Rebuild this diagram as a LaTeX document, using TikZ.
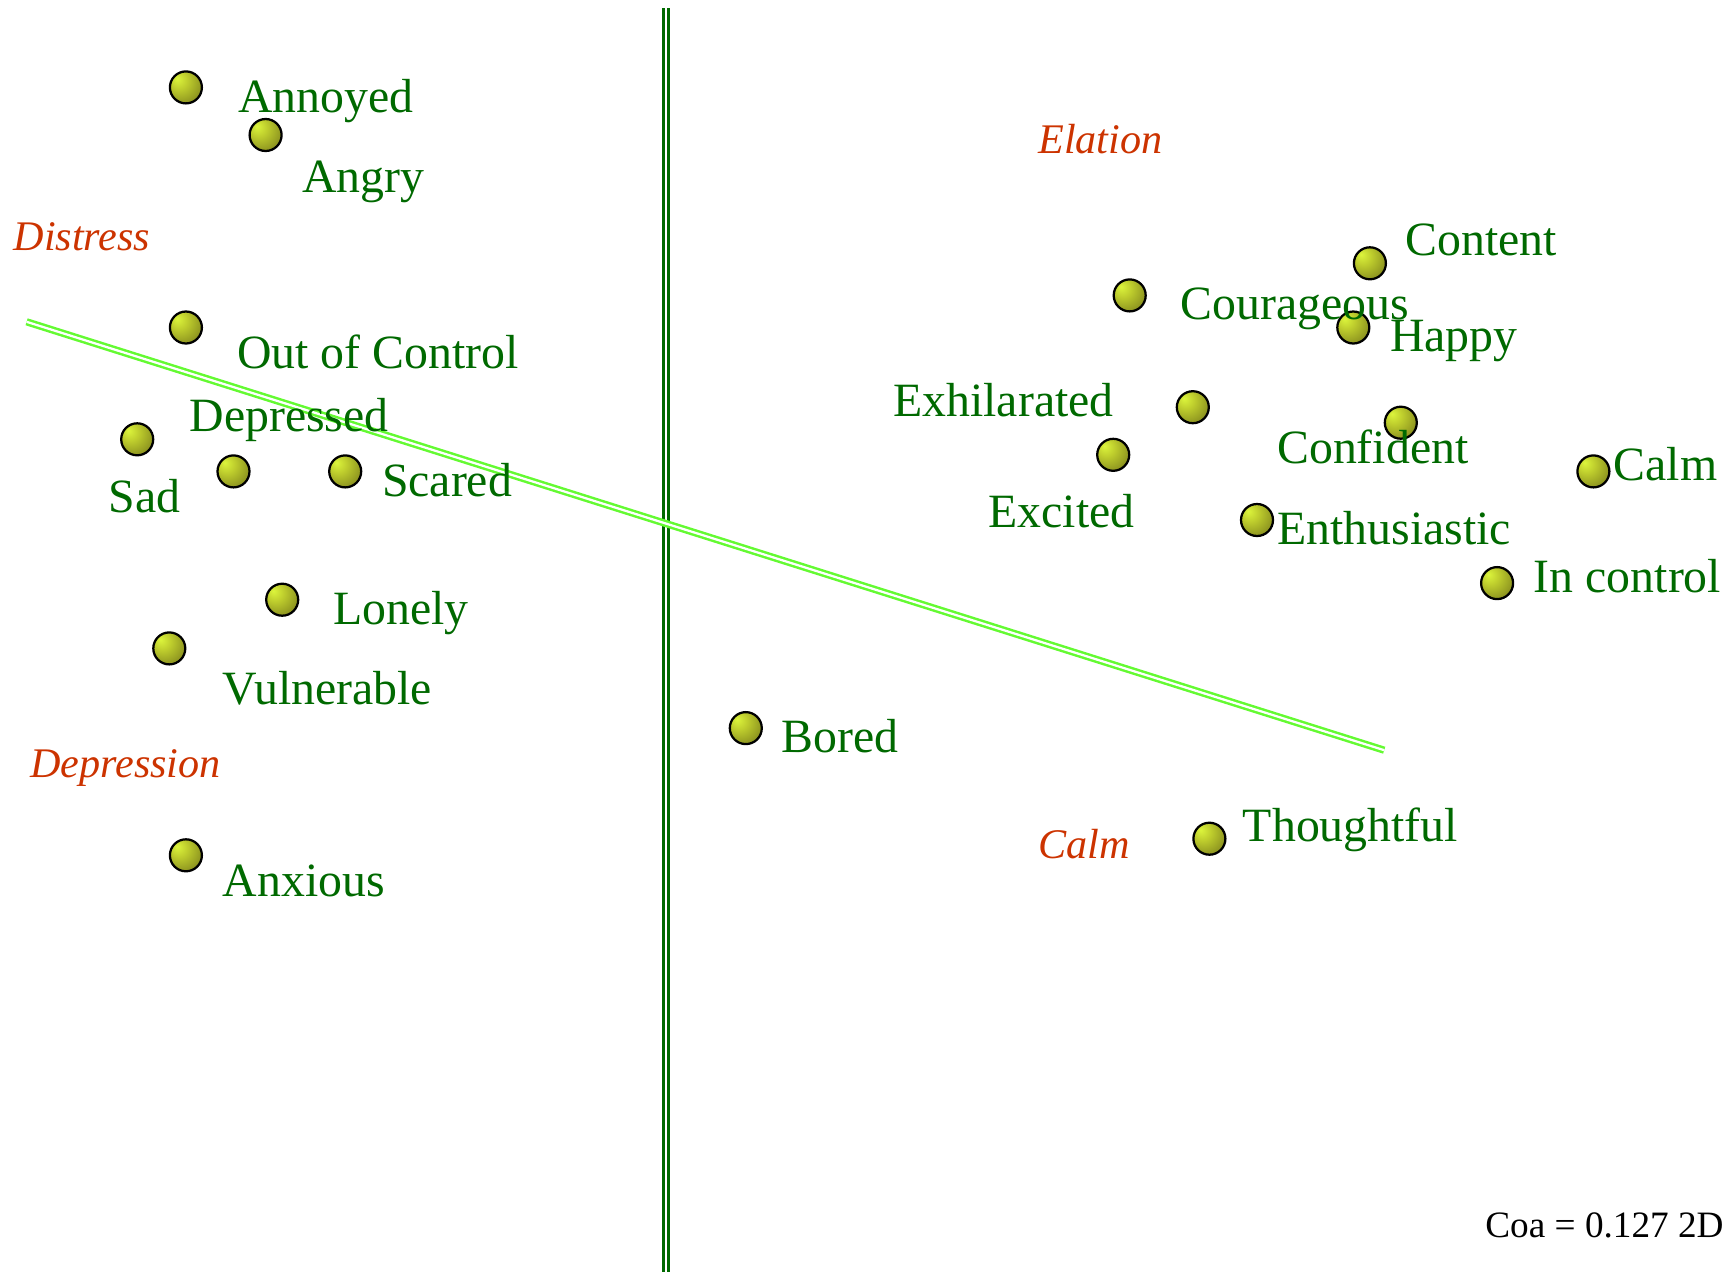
\documentclass[tikz,border=0pt]{standalone}
\usepackage{fontspec}
\setmainfont{Liberation Serif}
\definecolor{lblgreen}{RGB}{0,105,0}
\definecolor{lblred}{RGB}{204,51,0}
\definecolor{axgreen}{RGB}{0,105,0}
\definecolor{diaggreen}{RGB}{100,250,50}
\definecolor{bh}{RGB}{220,245,60}
\definecolor{bm}{RGB}{190,205,45}
\definecolor{bd}{RGB}{100,100,20}
\pgfdeclareradialshading{olball}{\pgfpoint{-14bp}{14bp}}{color(0bp)=(bh);color(14bp)=(bm);color(50bp)=(bd);color(75bp)=(bd)}
\tikzset{
  pt/.style={circle,draw=black,line width=0.045cm,shading=olball,minimum size=0.64cm,inner sep=0pt},
  lbl/.style={anchor=base west,inner sep=0pt,text=lblgreen,font=\fontsize{27.2}{30}\selectfont},
  grp/.style={anchor=base west,inner sep=0pt,text=lblred,font=\fontsize{24}{27}\selectfont\itshape},
  axv/.style={draw=axgreen,line width=0.05cm,double=white,double distance=0.05cm},
  axd/.style={draw=diaggreen,line width=0.05cm,double=white,double distance=0.045cm}
}
\begin{document}
\begin{tikzpicture}[x=0.02cm,y=-0.02cm]
\useasboundingbox (0,0) rectangle (1735,1272);
% axes
\coordinate (vtop) at (666,8);
\coordinate (vbot) at (666,1272);
\coordinate (dstart) at (26.6,321.8);
\coordinate (dend) at (1384.2,750.2);
\draw[axv] (vtop) -- (vbot);
\draw[axd] (dstart) -- (dend);
% points
\node[pt] (pAnnoyed) at (185.9,87.4) {};
\node[pt] (pAngry) at (265.6,135) {};
\node[pt] (pOut) at (185.9,327.5) {};
\node[pt] (pSad) at (137.2,439.3) {};
\node[pt] (pDepressed) at (233.5,471.4) {};
\node[pt] (pScared) at (345.2,471.4) {};
\node[pt] (pLonely) at (282.2,599.7) {};
\node[pt] (pVulnerable) at (169.3,648.4) {};
\node[pt] (pAnxious) at (185.9,855.3) {};
\node[pt] (pBored) at (745.8,728.1) {};
\node[pt] (pThoughtful) at (1209.4,838.7) {};
\node[pt] (pCourageous) at (1129.7,295.4) {};
\node[pt] (pContent) at (1369.9,263.3) {};
\node[pt] (pHappy) at (1353.3,327.5) {};
\node[pt] (pExhilarated) at (1192.8,407.2) {};
\node[pt] (pExcited) at (1113.2,454.8) {};
\node[pt] (pConfident) at (1400.8,422.7) {};
\node[pt] (pCalm) at (1593.4,471.4) {};
\node[pt] (pEnthusiastic) at (1257,520) {};
\node[pt] (pInControl) at (1497.1,583.1) {};
% labels
\node[lbl] (tAnnoyed) at (237.9,112.9) {Annoyed};
\node[lbl] (tAngry) at (302,192.5) {Angry};
\node[lbl] (tOut) at (236.8,368.5) {Out of Control};
\node[lbl] (tDepressed) at (189.2,431.5) {Depressed};
\node[lbl] (tSad) at (108.4,512.3) {Sad};
\node[lbl] (tScared) at (381.7,496.8) {Scared};
\node[lbl] (tLonely) at (333,624) {Lonely};
\node[lbl] (tVulnerable) at (222.4,704.8) {Vulnerable};
\node[lbl] (tAnxious) at (222.4,896.3) {Anxious};
\node[lbl] (tBored) at (781.2,752.4) {Bored};
\node[lbl] (tThoughtful) at (1242.6,841) {Thoughtful};
\node[lbl] (tContent) at (1405.3,255.6) {Content};
\node[lbl] (tCourageous) at (1180.6,319.8) {Courageous};
\node[lbl] (tHappy) at (1389.8,351.9) {Happy};
\node[lbl] (tExhilarated) at (893,416) {Exhilarated};
\node[lbl] (tConfident) at (1276.9,463.6) {Confident};
\node[lbl] (tCalm) at (1613.3,480.2) {Calm};
\node[lbl] (tExcited) at (988.1,527.8) {Excited};
\node[lbl] (tEnthusiastic) at (1276.9,544.4) {Enthusiastic};
\node[lbl] (tInControl) at (1533.6,592) {In control};
% group labels
\node[grp] (gDistress) at (13.3,250) {Distress};
\node[grp] (gDepression) at (29.9,777.9) {Depression};
\node[grp] (gElation) at (1037.9,153.8) {Elation};
\node[grp] (gCalm) at (1037.9,858.6) {Calm};
% footer
\node[anchor=base west,inner sep=0pt,font=\fontsize{21.2}{24}\selectfont] (coa) at (1485,1237) {Coa = 0.127 2D};
\end{tikzpicture}
\end{document}
